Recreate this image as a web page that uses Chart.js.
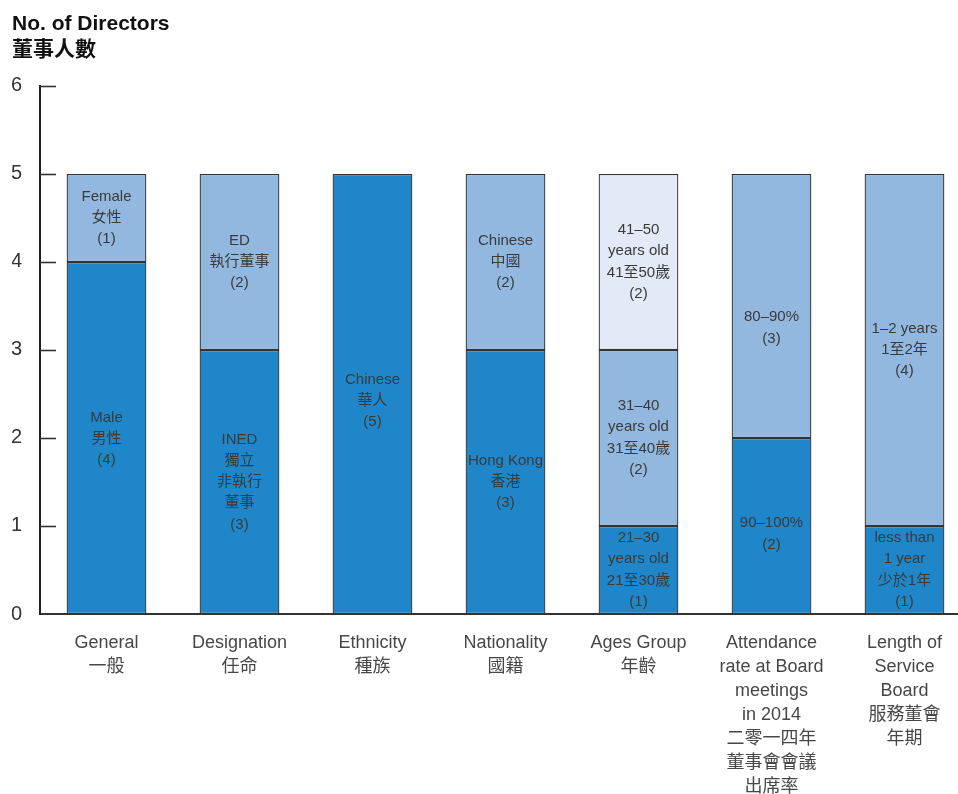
<!DOCTYPE html>
<html>
<head>
<meta charset="utf-8">
<style>
  html, body { margin: 0; padding: 0; background: #ffffff; overflow: hidden; }
  #wrap { width: 958px; height: 794px; overflow: hidden; position: relative; }
  canvas { display: block; }
</style>
<script src="https://cdn.jsdelivr.net/npm/chart.js@4.4.1/dist/chart.umd.min.js"></script>
</head>
<body>
<div id="wrap"><canvas id="c" width="971" height="794"></canvas></div>
<script>
// ---- data ----
const categories = [
  ["General", "一般"],
  ["Designation", "任命"],
  ["Ethnicity", "種族"],
  ["Nationality", "國籍"],
  ["Ages Group", "年齡"],
  ["Attendance", "rate at Board", "meetings", "in 2014", "二零一四年", "董事會會議", "出席率"],
  ["Length of", "Service", "Board", "服務董會", "年期"]
];
const bottomValues = [4, 3, 5, 3, 1, 2, 1];
const middleValues = [null, null, null, null, 2, null, null];
const topValues    = [1, 2, null, 2, 2, 3, 4];

const bottomLabels = [
  ["Male", "男性", "(4)"],
  ["INED", "獨立", "非執行", "董事", "(3)"],
  ["Chinese", "華人", "(5)"],
  ["Hong Kong", "香港", "(3)"],
  ["21–30", "years old", "21至30歲", "(1)"],
  ["90–100%", "(2)"],
  ["less than", "1 year", "少於1年", "(1)"]
];
const middleLabels = [null, null, null, null, ["31–40", "years old", "31至40歲", "(2)"], null, null];
const topLabels = [
  ["Female", "女性", "(1)"],
  ["ED", "執行董事", "(2)"],
  null,
  ["Chinese", "中國", "(2)"],
  ["41–50", "years old", "41至50歲", "(2)"],
  ["80–90%", "(3)"],
  ["1–2 years", "1至2年", "(4)"]
];
const yTicks = [0, 1, 2, 3, 4, 5, 6];

// ---- styles ----
const DARK = '#1f87c9';
const MID = '#93b8e0';
const LIGHT = '#e1eaf6';
const BORDER = '#333333';
const FONT = "'Liberation Sans', 'Noto Sans CJK TC', sans-serif";
const topColors = [MID, MID, MID, MID, LIGHT, MID, MID];
// vertical nudges (px) of some segment labels as placed in the original
const bottomLabelShift = [1, 0, 7, 0, 0, 8, 0];
const topLabelShift = [0, 0, 0, 0, 0, 22, 0];

const segmentLabelPlugin = {
  id: 'segmentLabels',
  afterDatasetsDraw(chart) {
    const ctx = chart.ctx;
    const sets = [
      { idx: 0, labels: bottomLabels, shift: bottomLabelShift },
      { idx: 1, labels: middleLabels, shift: null },
      { idx: 2, labels: topLabels, shift: topLabelShift }
    ];
    ctx.save();
    ctx.font = "15px " + FONT;
    ctx.fillStyle = '#3a3a3a';
    ctx.textAlign = 'center';
    ctx.textBaseline = 'middle';
    const lh = 21.3;
    sets.forEach(s => {
      const meta = chart.getDatasetMeta(s.idx);
      meta.data.forEach((bar, j) => {
        const lines = s.labels[j];
        if (!lines) return;
        const props = bar.getProps(['x', 'y', 'base'], true);
        const cy = (props.y + props.base) / 2 + (s.shift ? s.shift[j] : 0);
        const start = cy - (lines.length - 1) * lh / 2;
        lines.forEach((t, k) => ctx.fillText(t, props.x, start + k * lh));
      });
    });
    ctx.restore();
  }
};

const innerTicksPlugin = {
  id: 'innerTicks',
  afterDraw(chart) {
    const ctx = chart.ctx;
    const y = chart.scales.y;
    const left = chart.chartArea.left;
    ctx.save();
    ctx.strokeStyle = '#333333';
    ctx.lineWidth = 1.6;
    y.ticks.forEach(t => {
      if (t.value === 0) return;
      const py = Math.round(y.getPixelForValue(t.value)) + 0.5;
      ctx.beginPath();
      ctx.moveTo(left, py);
      ctx.lineTo(left + 16, py);
      ctx.stroke();
    });
    ctx.restore();
  }
};

const common = {
  borderColor: BORDER,
  borderWidth: 1.3,
  borderSkipped: false,
  categoryPercentage: 1.0,
  barPercentage: 0.6
};

new Chart(document.getElementById('c'), {
  type: 'bar',
  data: {
    labels: categories,
    datasets: [
      Object.assign({ label: 'bottom', data: bottomValues, backgroundColor: DARK }, common),
      Object.assign({ label: 'middle', data: middleValues, backgroundColor: MID }, common),
      Object.assign({ label: 'top', data: topValues, backgroundColor: topColors }, common)
    ]
  },
  options: {
    responsive: false,
    animation: false,
    devicePixelRatio: 1,
    layout: { padding: { left: 12, right: 0, top: 0, bottom: 0 } },
    plugins: {
      legend: { display: false },
      tooltip: { enabled: false },
      title: {
        display: true,
        text: 'No. of Directors',
        align: 'start',
        color: '#111111',
        font: { family: "'Liberation Sans', sans-serif", size: 21, weight: 'bold', lineHeight: 1.2 },
        padding: { top: 12, bottom: -2 }
      },
      subtitle: {
        display: true,
        text: '董事人數',
        align: 'start',
        color: '#111111',
        font: { family: "'Noto Sans CJK TC', sans-serif", size: 21, weight: 'bold', lineHeight: 1.2 },
        padding: { top: 0, bottom: 25.5 }
      }
    },
    scales: {
      x: {
        stacked: true,
        grid: { display: false, drawTicks: false },
        border: { display: true, color: '#333333', width: 2 },
        ticks: {
          color: '#474747',
          font: { family: FONT, size: 18, lineHeight: 1.333 },
          padding: 17,
          maxRotation: 0,
          autoSkip: false
        },
        afterFit(scale) { scale.height = 180; }
      },
      y: {
        stacked: true,
        min: 0,
        max: 6,
        afterBuildTicks(scale) { scale.ticks = yTicks.map(v => ({ value: v })); },
        grid: { display: false, drawTicks: false },
        border: { display: true, color: '#222222', width: 2 },
        ticks: {
          color: '#333333',
          font: { family: FONT, size: 20 },
          padding: 18
        },
        afterFit(scale) { scale.width = 28; }
      }
    }
  },
  plugins: [segmentLabelPlugin, innerTicksPlugin]
});
</script>
</body>
</html>
